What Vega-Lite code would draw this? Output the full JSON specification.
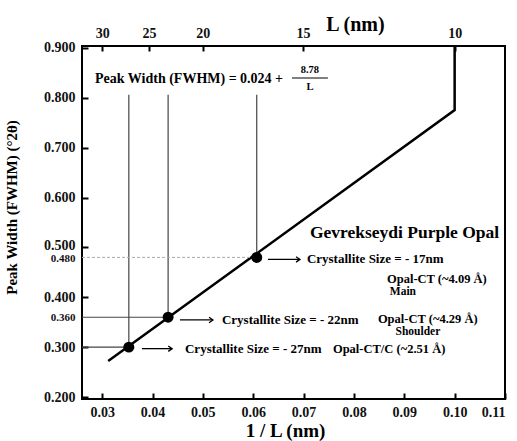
{
  "$schema": "https://vega.github.io/schema/vega-lite/v6.json",
  "width": 423,
  "height": 353,
  "autosize": "none",
  "padding": {"left": 82, "top": 46, "right": 12, "bottom": 42},
  "background": "white",
  "config": {
    "view": {"stroke": "#000", "strokeWidth": 2},
    "axis": {
      "grid": false,
      "domain": false,
      "labelOverlap": false,
      "labelBound": false,
      "tickColor": "#000",
      "labelFont": "Liberation Serif",
      "labelFontWeight": "bold",
      "labelColor": "#111",
      "labelFontSize": 14,
      "titleFont": "Liberation Serif",
      "titleFontWeight": "bold",
      "titleColor": "#000"
    },
    "text": {"font": "Liberation Serif", "fontWeight": "bold", "color": "#000"}
  },
  "datasets": {
    "fit": [
      {"x": 0.0312, "y": 0.272, "o": 1},
      {"x": 0.1, "y": 0.7756, "o": 2},
      {"x": 0.1, "y": 0.904, "o": 3}
    ],
    "dots": [
      {"x": 0.0353, "y": 0.3},
      {"x": 0.0431, "y": 0.36},
      {"x": 0.0607, "y": 0.48}
    ],
    "vguides": [
      {"x": 0.0353, "y": 0.3, "y2": 0.806},
      {"x": 0.0431, "y": 0.36, "y2": 0.806},
      {"x": 0.0607, "y": 0.48, "y2": 0.806}
    ],
    "hguides": [
      {"x": 0.026, "x2": 0.0353, "y": 0.3},
      {"x": 0.026, "x2": 0.0431, "y": 0.36}
    ],
    "dguides": [
      {"x": 0.026, "x2": 0.0607, "y": 0.48}
    ],
    "arrows": [
      {"x": 0.0379, "x2": 0.0439, "y": 0.297},
      {"x": 0.04545, "x2": 0.052, "y": 0.3545},
      {"x": 0.06292, "x2": 0.06928, "y": 0.476}
    ],
    "crystal": [
      {"x": 0.04645, "y": 0.297, "text": "Crystallite Size = - 27nm"},
      {"x": 0.05379, "y": 0.3545, "text": "Crystallite Size = - 22nm"},
      {"x": 0.07066, "y": 0.476, "text": "Crystallite Size = - 17nm"}
    ],
    "opalLeft": [
      {"x": 0.07583, "y": 0.297, "text": "Opal-CT/C (~2.51 Å)"},
      {"x": 0.08476, "y": 0.3555, "text": "Opal-CT (~4.29 Å)"}
    ],
    "opalCenter": [
      {"x": 0.09647, "y": 0.436, "text": "Opal-CT (~4.09 Å)"}
    ],
    "subLabels": [
      {"x": 0.08972, "y": 0.41, "text": "Main"},
      {"x": 0.0927, "y": 0.3295, "text": "Shoulder"}
    ],
    "equation": [
      {"x": 0.02858, "y": 0.8378, "text": "Peak Width (FWHM) = 0.024 +"}
    ],
    "fraction": [
      {"x": 0.07126, "y": 0.8559, "text": "8.78"},
      {"x": 0.07126, "y": 0.8218, "text": "L"}
    ],
    "fracBar": [
      {"x": 0.06769, "x2": 0.07483, "y": 0.8398}
    ],
    "sample": [
      {"x": 0.07126, "y": 0.529, "text": "Gevrekseydi Purple Opal"}
    ]
  },
  "resolve": {"axis": {"x": "independent", "y": "independent"}},
  "layer": [
    {
      "data": {"name": "fit"},
      "mark": {"type": "line", "color": "#000", "strokeWidth": 2.5},
      "encoding": {
        "x": {
          "field": "x", "type": "quantitative",
          "scale": {"domain": [0.026, 0.11], "nice": false, "zero": false},
          "axis": {
            "orient": "bottom",
            "title": "1 / L (nm)",
            "values": [0.03, 0.04, 0.05, 0.06, 0.07, 0.08, 0.09, 0.1, 0.11],
            "format": ".2f",
            "tickSize": -6,
            "tickWidth": 2,
            "labelPadding": 12,
            "titleFontSize": 19,
            "titleX": 203,
            "titleY": 37,
            "titleBaseline": "alphabetic"
          }
        },
        "y": {
          "field": "y", "type": "quantitative",
          "scale": {"domain": [0.196, 0.904], "nice": false, "zero": false},
          "axis": {
            "orient": "left",
            "title": "Peak Width (FWHM) (°2θ)",
            "values": [0.2, 0.3, 0.36, 0.4, 0.48, 0.5, 0.6, 0.7, 0.8, 0.9],
            "format": ".3f",
            "tickSize": -6,
            "tickWidth": 2,
            "labelPadding": 13,
            "labelFontSize": {"condition": {"test": "datum.value == 0.36 || datum.value == 0.48", "value": 11}, "value": 14},
            "labelOffset": {"condition": [{"test": "datum.value == 0.5", "value": -2}, {"test": "datum.value == 0.48", "value": 1}], "value": 0},
            "tickOpacity": {"condition": {"test": "datum.value == 0.36 || datum.value == 0.48", "value": 0}, "value": 1},
            "titleFontSize": 15,
            "titleX": -63,
            "titleY": 161,
            "titleAlign": "center",
            "titleBaseline": "bottom"
          }
        },
        "order": {"field": "o", "type": "quantitative"}
      }
    },
    {
      "data": {"name": "vguides"},
      "mark": {"type": "rule", "color": "#444", "strokeWidth": 1.2},
      "encoding": {
        "x": {"field": "x", "type": "quantitative", "scale": {"domain": [0.026, 0.11], "nice": false, "zero": false}, "axis": null},
        "y": {"field": "y", "type": "quantitative", "scale": {"domain": [0.196, 0.904], "nice": false, "zero": false}, "axis": null},
        "y2": {"field": "y2"}
      }
    },
    {
      "data": {"name": "hguides"},
      "mark": {"type": "rule", "color": "#444", "strokeWidth": 1.2},
      "encoding": {
        "x": {"field": "x", "type": "quantitative", "scale": {"domain": [0.026, 0.11], "nice": false, "zero": false}, "axis": null},
        "x2": {"field": "x2"},
        "y": {"field": "y", "type": "quantitative", "scale": {"domain": [0.196, 0.904], "nice": false, "zero": false}, "axis": null}
      }
    },
    {
      "data": {"name": "dguides"},
      "mark": {"type": "rule", "color": "#aaa", "strokeWidth": 1, "strokeDash": [3, 2]},
      "encoding": {
        "x": {"field": "x", "type": "quantitative", "scale": {"domain": [0.026, 0.11], "nice": false, "zero": false}, "axis": null},
        "x2": {"field": "x2"},
        "y": {"field": "y", "type": "quantitative", "scale": {"domain": [0.196, 0.904], "nice": false, "zero": false}, "axis": null}
      }
    },
    {
      "data": {"name": "arrows"},
      "mark": {"type": "rule", "color": "#000", "strokeWidth": 1.3},
      "encoding": {
        "x": {
          "field": "x", "type": "quantitative",
          "scale": {"domain": [0.026, 0.11], "nice": false, "zero": false},
          "axis": {
            "orient": "top",
            "title": "L (nm)",
            "values": [0.03, 0.0393, 0.05, 0.0699, 0.1],
            "labelExpr": "datum.value < 0.035 ? '30' : datum.value < 0.045 ? '25' : datum.value < 0.06 ? '20' : datum.value < 0.08 ? '15' : '10'",
            "tickSize": -5,
            "tickWidth": 2,
            "labelPadding": 11,
            "titleFontSize": 20,
            "titleX": 273,
            "titleY": -16,
            "titleBaseline": "alphabetic"
          }
        },
        "x2": {"field": "x2"},
        "y": {"field": "y", "type": "quantitative", "scale": {"domain": [0.196, 0.904], "nice": false, "zero": false}, "axis": null}
      }
    },
    {
      "data": {"name": "arrows"},
      "mark": {"type": "point", "shape": "M-1,-0.7L0,0L-1,0.7", "filled": false, "stroke": "#000", "strokeWidth": 1.3, "size": 60, "opacity": 1},
      "encoding": {
        "x": {"field": "x2", "type": "quantitative", "scale": {"domain": [0.026, 0.11], "nice": false, "zero": false}, "axis": null},
        "y": {"field": "y", "type": "quantitative", "scale": {"domain": [0.196, 0.904], "nice": false, "zero": false}, "axis": null}
      }
    },
    {
      "data": {"name": "dots"},
      "mark": {"type": "point", "shape": "circle", "filled": true, "color": "#000", "size": 120, "opacity": 1},
      "encoding": {
        "x": {"field": "x", "type": "quantitative", "scale": {"domain": [0.026, 0.11], "nice": false, "zero": false}, "axis": null},
        "y": {"field": "y", "type": "quantitative", "scale": {"domain": [0.196, 0.904], "nice": false, "zero": false}, "axis": null}
      }
    },
    {
      "data": {"name": "crystal"},
      "mark": {"type": "text", "align": "left", "baseline": "middle", "fontSize": 13},
      "encoding": {
        "x": {"field": "x", "type": "quantitative", "scale": {"domain": [0.026, 0.11], "nice": false, "zero": false}, "axis": null},
        "y": {"field": "y", "type": "quantitative", "scale": {"domain": [0.196, 0.904], "nice": false, "zero": false}, "axis": null},
        "text": {"field": "text"}
      }
    },
    {
      "data": {"name": "opalLeft"},
      "mark": {"type": "text", "align": "left", "baseline": "middle", "fontSize": 12.5},
      "encoding": {
        "x": {"field": "x", "type": "quantitative", "scale": {"domain": [0.026, 0.11], "nice": false, "zero": false}, "axis": null},
        "y": {"field": "y", "type": "quantitative", "scale": {"domain": [0.196, 0.904], "nice": false, "zero": false}, "axis": null},
        "text": {"field": "text"}
      }
    },
    {
      "data": {"name": "opalCenter"},
      "mark": {"type": "text", "align": "center", "baseline": "middle", "fontSize": 12.5},
      "encoding": {
        "x": {"field": "x", "type": "quantitative", "scale": {"domain": [0.026, 0.11], "nice": false, "zero": false}, "axis": null},
        "y": {"field": "y", "type": "quantitative", "scale": {"domain": [0.196, 0.904], "nice": false, "zero": false}, "axis": null},
        "text": {"field": "text"}
      }
    },
    {
      "data": {"name": "subLabels"},
      "mark": {"type": "text", "align": "center", "baseline": "middle", "fontSize": 11.5},
      "encoding": {
        "x": {"field": "x", "type": "quantitative", "scale": {"domain": [0.026, 0.11], "nice": false, "zero": false}, "axis": null},
        "y": {"field": "y", "type": "quantitative", "scale": {"domain": [0.196, 0.904], "nice": false, "zero": false}, "axis": null},
        "text": {"field": "text"}
      }
    },
    {
      "data": {"name": "equation"},
      "mark": {"type": "text", "align": "left", "baseline": "middle", "fontSize": 14},
      "encoding": {
        "x": {"field": "x", "type": "quantitative", "scale": {"domain": [0.026, 0.11], "nice": false, "zero": false}, "axis": null},
        "y": {"field": "y", "type": "quantitative", "scale": {"domain": [0.196, 0.904], "nice": false, "zero": false}, "axis": null},
        "text": {"field": "text"}
      }
    },
    {
      "data": {"name": "fraction"},
      "mark": {"type": "text", "align": "center", "baseline": "middle", "fontSize": 10.5},
      "encoding": {
        "x": {"field": "x", "type": "quantitative", "scale": {"domain": [0.026, 0.11], "nice": false, "zero": false}, "axis": null},
        "y": {"field": "y", "type": "quantitative", "scale": {"domain": [0.196, 0.904], "nice": false, "zero": false}, "axis": null},
        "text": {"field": "text"}
      }
    },
    {
      "data": {"name": "fracBar"},
      "mark": {"type": "rule", "color": "#000", "strokeWidth": 1},
      "encoding": {
        "x": {"field": "x", "type": "quantitative", "scale": {"domain": [0.026, 0.11], "nice": false, "zero": false}, "axis": null},
        "x2": {"field": "x2"},
        "y": {"field": "y", "type": "quantitative", "scale": {"domain": [0.196, 0.904], "nice": false, "zero": false}, "axis": null}
      }
    },
    {
      "data": {"name": "sample"},
      "mark": {"type": "text", "align": "left", "baseline": "middle", "fontSize": 17.5},
      "encoding": {
        "x": {"field": "x", "type": "quantitative", "scale": {"domain": [0.026, 0.11], "nice": false, "zero": false}, "axis": null},
        "y": {"field": "y", "type": "quantitative", "scale": {"domain": [0.196, 0.904], "nice": false, "zero": false}, "axis": null},
        "text": {"field": "text"}
      }
    }
  ]
}
